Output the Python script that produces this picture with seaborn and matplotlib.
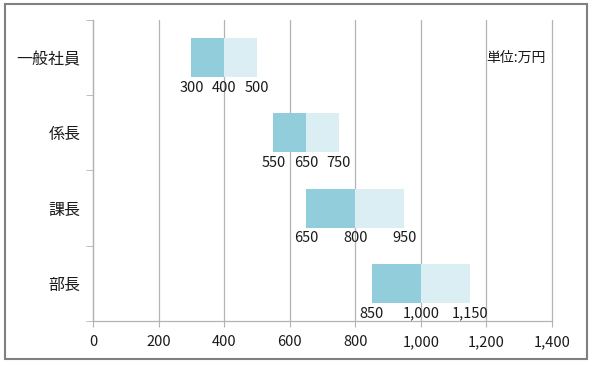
import pandas as pd
import seaborn as sns
import matplotlib.pyplot as plt
from matplotlib.patches import Rectangle
from matplotlib.ticker import FuncFormatter, FixedLocator

# 役職ごとの年収レンジ（万円）
positions = ['一般社員', '係長', '課長', '部長']
low = [300, 550, 650, 850]
mid = [400, 650, 800, 1000]
high = [500, 750, 950, 1150]
x_ticks = [0, 200, 400, 600, 800, 1000, 1200, 1400]
unit_label = '単位:万円'

df = pd.DataFrame({'position': positions, 'low': low, 'mid': mid, 'high': high})
df['lower_w'] = df['mid'] - df['low']
df['upper_w'] = df['high'] - df['mid']

sns.set_style('white')
plt.rcParams['font.family'] = ['Noto Sans CJK JP', 'DejaVu Sans']

fig = plt.figure(figsize=(5.94, 3.66), dpi=100)
ax = fig.add_axes([0.1566, 0.123, 0.7727, 0.8224])

bar_h = 0.52
sns.barplot(data=df, x='lower_w', y='position', left=df['low'].values,
            color='#92CDDC', saturation=1, width=bar_h, ax=ax, zorder=3,
            linewidth=0, edgecolor='none')
sns.barplot(data=df, x='upper_w', y='position', left=df['mid'].values,
            color='#DAEEF3', saturation=1, width=bar_h, ax=ax, zorder=3,
            linewidth=0, edgecolor='none')

# 値ラベル（バーの下）
for i, row in df.iterrows():
    for v in (row['low'], row['mid'], row['high']):
        ax.text(v, i + bar_h / 2 + 0.05, f'{v:,}', ha='center', va='top',
                fontsize=10.5, color='#1a1a1a', zorder=4)

ax.text(1200, 0, unit_label, ha='left', va='center', fontsize=10, color='#1a1a1a')

ax.set_xlim(0, 1400)
ax.set_ylim(3.5, -0.5)
ax.xaxis.set_major_locator(FixedLocator(x_ticks))
ax.xaxis.set_major_formatter(FuncFormatter(lambda v, p: f'{int(v):,}'))
ax.grid(axis='x', color='#B3B3B3', linewidth=0.9, zorder=0)
ax.set_axisbelow(True)
for gl in ax.get_xgridlines():
    gl.set_clip_on(False)

ax.set_xlabel('')
ax.set_ylabel('')
for s in ['top', 'right']:
    ax.spines[s].set_visible(False)
for s in ['left', 'bottom']:
    ax.spines[s].set_color('#B3B3B3')
    ax.spines[s].set_linewidth(0.9)

ax.tick_params(axis='x', length=4, color='#B3B3B3', labelsize=10.5,
               labelcolor='#1a1a1a', pad=6, bottom=True)
ax.tick_params(axis='y', which='major', length=0, labelsize=11.5,
               labelcolor='#1a1a1a', pad=9)
ax.yaxis.set_minor_locator(FixedLocator([-0.5, 0.5, 1.5, 2.5, 3.5]))
ax.tick_params(axis='y', which='minor', length=5, color='#B3B3B3', left=True)

fig.patches.append(Rectangle((0.0084, 0.019), 0.98, 0.97, transform=fig.transFigure,
                             fill=False, edgecolor='#808080', linewidth=1.5))

fig.savefig('out.png', dpi=100)
